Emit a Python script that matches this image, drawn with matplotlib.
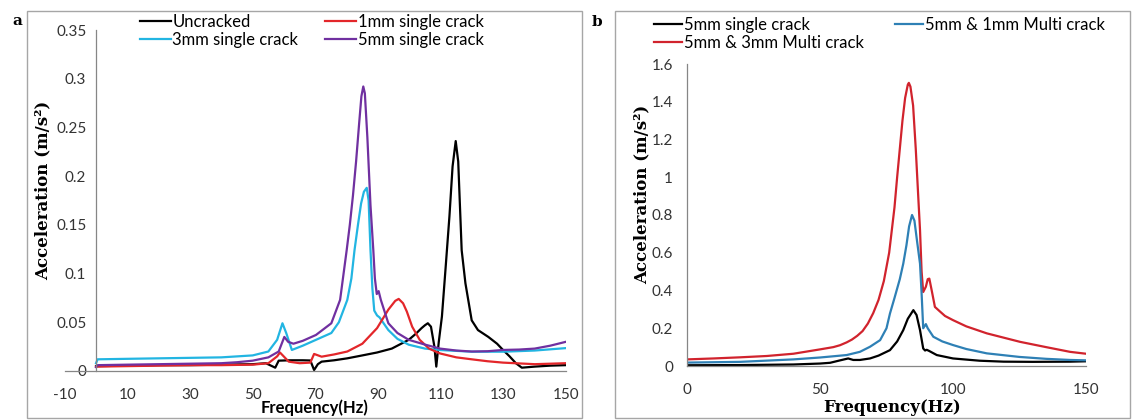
import matplotlib.pyplot as plt
from matplotlib.patches import Rectangle

# ---- panel a : single cracks ----
unc_f = [0, 10, 20, 30, 40, 50, 54.2, 57.2, 58.3, 62, 66, 68.4, 69.6, 70.8, 72, 76, 80.2, 85, 89.7,
         94.4, 99.8, 102, 103.9, 105, 105.9, 106.9, 108, 108.6, 109.4, 110.4, 111.6, 112.8, 113.8,
         114.8, 115.6, 116.7, 117.9, 119.9, 121.9, 125.2, 128, 129.9, 132, 134, 135.9, 140, 145, 150]
unc_v = [0.005, 0.0055, 0.006, 0.006, 0.0065, 0.007, 0.008, 0.0034, 0.0106, 0.011, 0.011, 0.0108,
         0.001, 0.007, 0.0096, 0.011, 0.013, 0.016, 0.019, 0.023, 0.032, 0.038, 0.044, 0.047,
         0.049, 0.0455, 0.025, 0.0045, 0.03, 0.056, 0.107, 0.159, 0.21, 0.236, 0.215, 0.124, 0.09,
         0.052, 0.042, 0.035, 0.028, 0.0216, 0.015, 0.008, 0.0034, 0.0045, 0.0055, 0.006]

mm1_f = [0, 10, 20, 30, 40, 50, 55, 57.8, 58.7, 59.9, 61.5, 65, 68.4, 69.6, 72, 76, 80.2, 85, 89.7,
         93.3, 95.5, 96.6, 98, 99.2, 100.9, 103.3, 106.3, 109.8, 115, 119.9, 125, 129.9, 140, 150]
mm1_v = [0.0045, 0.005, 0.0055, 0.006, 0.006, 0.0065, 0.008, 0.015, 0.019, 0.015, 0.0096, 0.008,
         0.0086, 0.0175, 0.0147, 0.017, 0.02, 0.028, 0.044, 0.063, 0.072, 0.074, 0.0695, 0.061,
         0.0455, 0.032, 0.023, 0.018, 0.014, 0.012, 0.01, 0.0086, 0.007, 0.008]

mm3_f = [0, 0.5, 10, 20, 30, 40, 45, 50, 55, 57.8, 59.5, 60.7, 62.5, 66, 70.2, 75.1, 77.5, 80.2,
         81.5, 82.5, 83.6, 84.6, 85.5, 86.4, 87, 87.6, 88.2, 88.8, 89.7, 90.5, 92, 93.3, 96.2,
         99.8, 105, 110, 120, 130, 140, 150]
mm3_v = [0.008, 0.012, 0.0125, 0.013, 0.0135, 0.014, 0.015, 0.016, 0.02, 0.032, 0.049, 0.039,
         0.0216, 0.026, 0.032, 0.039, 0.05, 0.073, 0.095, 0.124, 0.15, 0.172, 0.184, 0.188, 0.175,
         0.124, 0.085, 0.062, 0.057, 0.055, 0.048, 0.042, 0.033, 0.027, 0.023, 0.0215, 0.0198,
         0.0198, 0.021, 0.0235]

mm5_f = [0, 0.5, 10, 20, 30, 40, 45, 50, 55, 58.3, 60.1, 61.3, 63, 66, 70.2, 75.1, 77.9, 80.0,
         81, 82, 83, 84, 84.7, 85.3, 85.8, 86.6, 87.6, 88.5, 89, 89.6, 90.2, 90.9, 93.3, 96.2,
         99.8, 105.1, 109.8, 115, 119.9, 125, 129.9, 135, 140, 145, 150]
mm5_v = [0.004, 0.006, 0.0065, 0.007, 0.0075, 0.008, 0.009, 0.0106, 0.014, 0.02, 0.035, 0.030,
         0.028, 0.031, 0.037, 0.049, 0.073, 0.124, 0.15, 0.18, 0.215, 0.255, 0.282, 0.292, 0.285,
         0.24, 0.17, 0.124, 0.095, 0.079, 0.082, 0.073, 0.049, 0.039, 0.032, 0.027, 0.023, 0.021,
         0.02, 0.0203, 0.0216, 0.022, 0.023, 0.026, 0.03]

# ---- panel b : multi cracks ----
s5_f = [0, 20, 40, 50, 53.8, 57, 60.6, 62.5, 65, 68.8, 72, 76.3, 79, 81.3, 83, 85.1, 86.3, 87.6,
        88.8, 89.5, 90.1, 91, 93.9, 100, 110, 119, 130, 144, 150]
s5_v = [0.004, 0.005, 0.008, 0.013, 0.017, 0.028, 0.04, 0.032, 0.032, 0.04, 0.055, 0.084, 0.13,
        0.19, 0.25, 0.296, 0.27, 0.19, 0.093, 0.082, 0.086, 0.08, 0.058, 0.04, 0.028, 0.023,
        0.022, 0.023, 0.025]

m51_f = [0, 20, 40, 50, 60, 65, 68.8, 72.6, 75, 76.3, 78, 80, 81.3, 82.5, 83.5, 84.6, 85.5, 86.5,
         87.6, 88.2, 88.8, 89.8, 90.5, 92.6, 96, 100, 105, 112.7, 125, 135, 144, 150]
m51_v = [0.018, 0.022, 0.035, 0.045, 0.058, 0.075, 0.102, 0.137, 0.2, 0.278, 0.36, 0.46, 0.542,
         0.64, 0.74, 0.8, 0.77, 0.66, 0.542, 0.384, 0.2, 0.222, 0.2, 0.155, 0.13, 0.111, 0.09,
         0.067, 0.048, 0.038, 0.032, 0.03]

m53_f = [0, 10, 20, 30, 40, 50, 55, 57.5, 60, 62, 64, 66, 68, 70, 72, 74, 76, 77, 78, 79, 80, 81,
         82, 83, 83.4, 84, 85, 86, 87, 87.6, 88.2, 88.8, 89.8, 90.5, 91.1, 92, 93.2, 95, 97, 100,
         105, 112.7, 125.2, 135, 144, 150]
m53_v = [0.035, 0.04, 0.046, 0.053, 0.065, 0.088, 0.1, 0.11, 0.125, 0.14, 0.16, 0.185, 0.225,
         0.28, 0.35, 0.45, 0.6, 0.72, 0.84, 1.0, 1.15, 1.3, 1.42, 1.49, 1.5, 1.48, 1.38, 1.15,
         0.88, 0.72, 0.5, 0.392, 0.42, 0.46, 0.463, 0.4, 0.313, 0.29, 0.265, 0.243, 0.21, 0.173,
         0.128, 0.1, 0.075, 0.065]

a_xticks = [-10, 10, 30, 50, 70, 90, 110, 130, 150]
a_yticks = [0, 0.05, 0.1, 0.15, 0.2, 0.25, 0.3, 0.35]
a_ylabels = ['0', '0.05', '0.1', '0.15', '0.2', '0.25', '0.3', '0.35']
b_xticks = [0, 50, 100, 150]
b_yticks = [0, 0.2, 0.4, 0.6, 0.8, 1.0, 1.2, 1.4, 1.6]
b_ylabels = ['0', '0.2', '0.4', '0.6', '0.8', '1', '1.2', '1.4', '1.6']

W, H = 1132, 420
fig = plt.figure(figsize=(W / 100, H / 100), dpi=100)

def fbox(x0, y0, x1, y1):
    # pixel box (top-left origin) -> figure fraction rect
    return [x0 / W, 1 - y1 / H, (x1 - x0) / W, (y1 - y0) / H]

# panel frames
for x0, x1 in [(27, 582), (615, 1130)]:
    fig.patches.append(Rectangle((x0 / W, 2 / H), (x1 - x0) / W, 407 / H,
                                 transform=fig.transFigure, fill=False,
                                 edgecolor='#a6a6a6', linewidth=1.0))

tick_font = dict(family='Lato', size=11, color='#333333')
serif_bold = dict(family='DejaVu Serif', weight='bold', size=12)
spine_col = '#868686'
leg_prop = dict(family='Lato', size=12)

# ---- a ----
ax1 = fig.add_axes(fbox(64.7, 30, 566, 371))
ax1.plot(unc_f, unc_v, color='black', lw=1.6, label='Uncracked')
ax1.plot(mm3_f, mm3_v, color='#22b5e2', lw=1.6, label='3mm single crack')
ax1.plot(mm1_f, mm1_v, color='#e3262a', lw=1.6, label='1mm single crack')
ax1.plot(mm5_f, mm5_v, color='#7030a0', lw=1.6, label='5mm single crack')
ax1.set_xlim(-10, 150)
ax1.set_ylim(0, 0.35)
ax1.spines['left'].set_position(('data', 0))
for s in ['top', 'right']:
    ax1.spines[s].set_visible(False)
for s in ['left', 'bottom']:
    ax1.spines[s].set_color(spine_col)
    ax1.spines[s].set_linewidth(0.9)
ax1.set_xticks(a_xticks)
ax1.set_xticklabels([str(t) for t in a_xticks], **tick_font)
ax1.set_yticks(a_yticks)
ax1.set_yticklabels(a_ylabels, **tick_font)
ax1.tick_params(axis='both', length=0)
ax1.tick_params(axis='x', pad=12)
ax1.tick_params(axis='y', pad=7)
fig.text(315 / W, 1 - 408 / H, 'Frequency(Hz)', family='Lato', weight='bold', size=12,
         ha='center', va='center')
fig.text(43 / W, 1 - 190 / H, 'Acceleration (m/s²)', rotation=90, ha='center', va='center',
         **serif_bold)
fig.text(12 / W, 1 - 21 / H, 'a', ha='left', va='center', family='DejaVu Serif',
         weight='bold', size=11)
ax1.legend(loc='upper left', bbox_to_anchor=(140 / W, 1 - 14 / H), bbox_transform=fig.transFigure,
           ncol=2, frameon=False, prop=leg_prop, handlelength=1.85, handletextpad=0.1,
           columnspacing=1.6, labelspacing=0.1, borderpad=0, borderaxespad=0)

# ---- b ----
ax2 = fig.add_axes(fbox(687, 64, 1086, 366))
ax2.plot(s5_f, s5_v, color='black', lw=1.6, label='5mm single crack')
ax2.plot(m53_f, m53_v, color='#d1232d', lw=1.6, label='5mm & 3mm Multi crack')
ax2.plot(m51_f, m51_v, color='#2e80b5', lw=1.6, label='5mm & 1mm Multi crack')
ax2.set_xlim(0, 150)
ax2.set_ylim(0, 1.6)
for s in ['top', 'right']:
    ax2.spines[s].set_visible(False)
for s in ['left', 'bottom']:
    ax2.spines[s].set_color(spine_col)
    ax2.spines[s].set_linewidth(0.9)
ax2.set_xticks(b_xticks)
ax2.set_xticklabels([str(t) for t in b_xticks], **tick_font)
ax2.set_yticks(b_yticks)
ax2.set_yticklabels(b_ylabels, **tick_font)
ax2.tick_params(axis='both', length=0)
ax2.tick_params(axis='x', pad=12)
ax2.tick_params(axis='y', pad=10)
fig.text(892 / W, 1 - 407 / H, 'Frequency(Hz)', ha='center', va='center', **serif_bold)
fig.text(642 / W, 1 - 194 / H, 'Acceleration (m/s²)', rotation=90, ha='center', va='center',
         **serif_bold)
fig.text(592 / W, 1 - 22 / H, 'b', ha='left', va='center', family='DejaVu Serif',
         weight='bold', size=11)
ax2.legend(loc='upper left', bbox_to_anchor=(654 / W, 1 - 17 / H), bbox_transform=fig.transFigure,
           ncol=2, frameon=False, prop=leg_prop, handlelength=1.7, handletextpad=0.1,
           columnspacing=1.85, labelspacing=0.1, borderpad=0, borderaxespad=0)

fig.savefig('out.png', dpi=100)
